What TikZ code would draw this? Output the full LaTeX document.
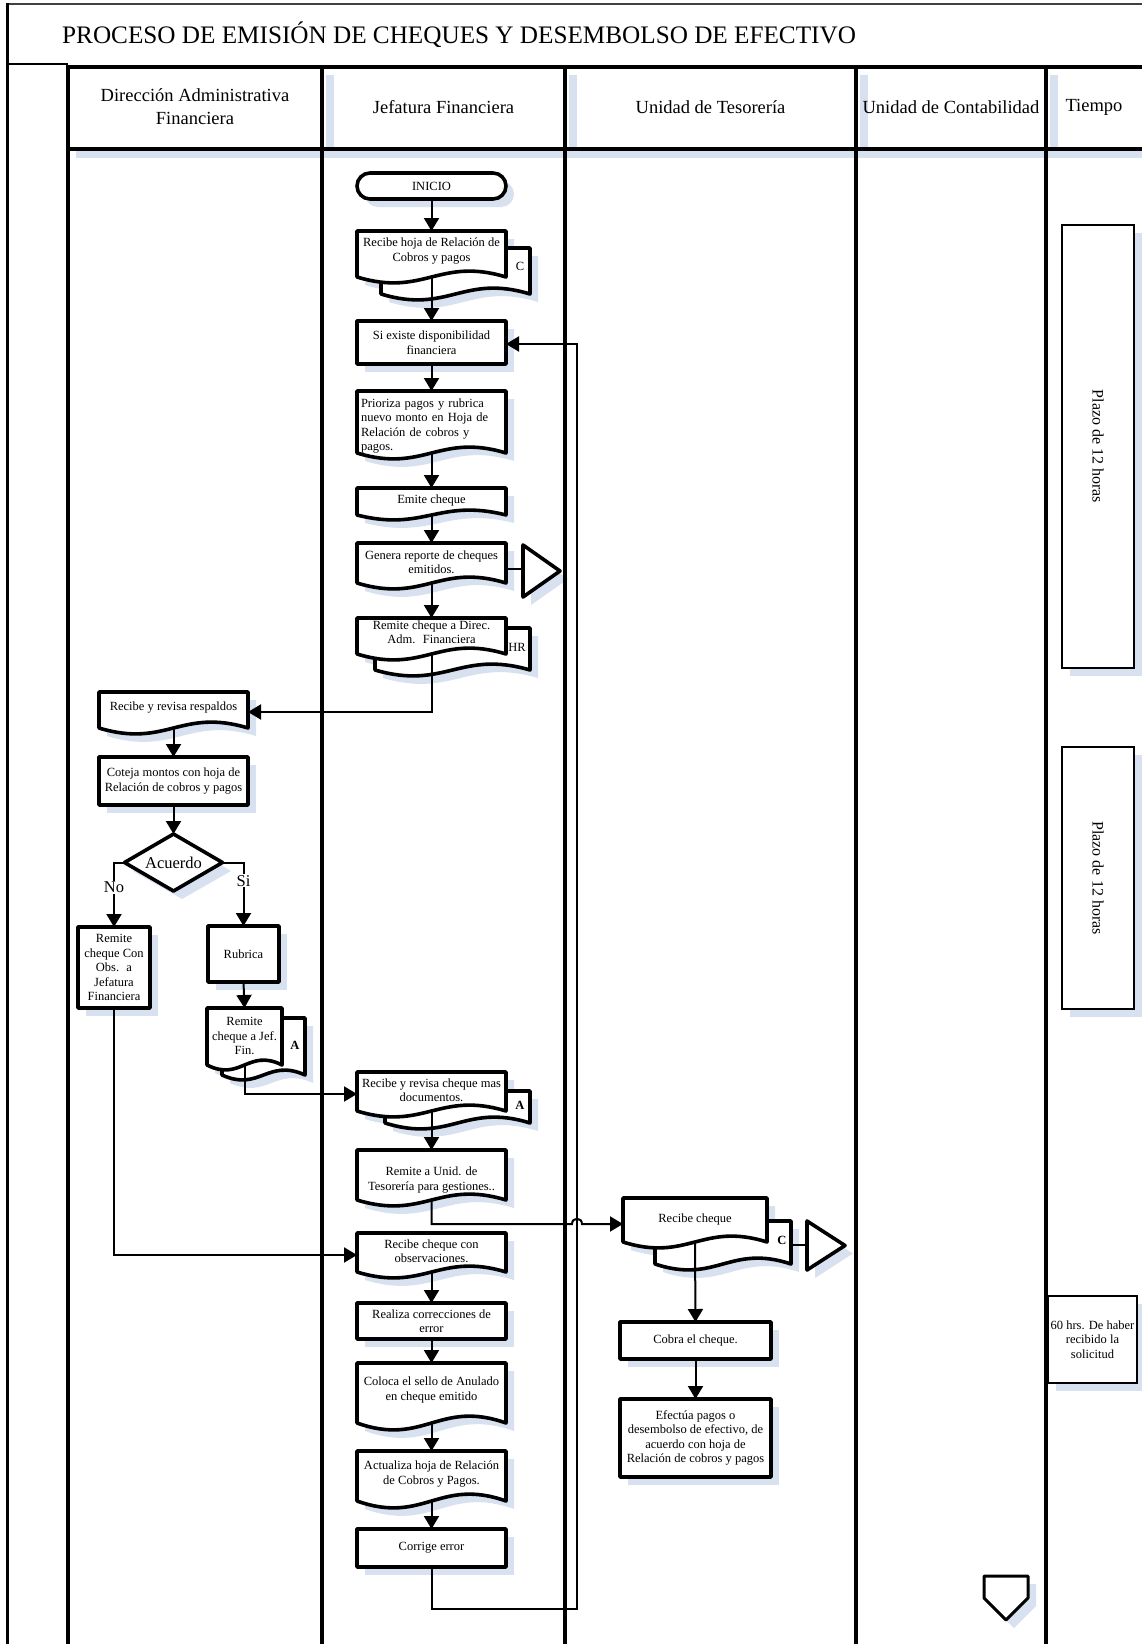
\documentclass[tikz,border=0pt]{standalone}
\usepackage{fontspec}
\setmainfont{Liberation Serif}
\usetikzlibrary{arrows.meta,shapes.geometric}
\pgfdeclarelayer{bg}
\pgfsetlayers{bg,main}
\definecolor{shadowc}{RGB}{216,225,240}
\tikzset{
  shp/.style={line width=3.6pt, line join=round, draw=black, fill=white},
  txt/.style={font=\fontsize{12.5}{14.5}\selectfont, align=center, inner sep=0pt, outer sep=0pt},
  conn/.style={line width=2pt},
  arr/.style={conn, -{Triangle[length=13pt,width=15pt]}},
  lane/.style={line width=4pt},
  lbl/.style={font=\fontsize{12.5}{14.5}\selectfont, inner sep=0pt},
  blbl/.style={font=\fontsize{12.5}{14.5}\selectfont\bfseries, inner sep=0pt},
  big/.style={font=\fontsize{16.5}{19}\selectfont},
  hdr/.style={font=\fontsize{18.5}{23}\selectfont, align=center, inner sep=0pt},
  tbox/.style={draw=black, line width=1.2pt, fill=white, inner sep=0pt, outer sep=0pt},
}
\newcommand{\DocOutline}[5]{%
  \begin{pgfonlayer}{bg}
    \fill[shadowc, shift={(8,8)}] (#1,#2) -- (#3,#2) -- (#3,#4) .. controls ({#3-0.45*(#3-#1)},{#4-3.4*#5}) and ({#1+0.45*(#3-#1)},{#4+3.4*#5}) .. (#1,#4) -- cycle;
  \end{pgfonlayer}
  \path[shp] (#1,#2) -- (#3,#2) -- (#3,#4) .. controls ({#3-0.45*(#3-#1)},{#4-3.4*#5}) and ({#1+0.45*(#3-#1)},{#4+3.4*#5}) .. (#1,#4) -- cycle;
}
\newcommand{\Doc}[8]{%
  \DocOutline{#2}{#3}{#4}{#5}{#6}
  \node[txt, minimum width={#4-#2}] (#1) at ({(#2+#4)/2},#7) {#8};
  \coordinate (#1-top) at ({(#2+#4)/2},#3);
  \coordinate (#1-bot) at ({(#2+#4)/2},#5);
}
\newcommand{\RBox}[6]{%
  \begin{pgfonlayer}{bg}
    \fill[shadowc] ({#2+8},{#3+8}) rectangle ({#4+8},{#5+8});
  \end{pgfonlayer}
  \node[shp, txt, minimum width={#4-#2}, minimum height={#5-#3}] (#1) at ({(#2+#4)/2},{(#3+#5)/2}) {#6};
}
\begin{document}
\begin{tikzpicture}[x=1pt,y=-1pt]
\useasboundingbox (0,0) rectangle (1142,1644);
\begin{pgfonlayer}{bg}
  \fill[white] (0,0) rectangle (1142,1644);
  \fill[shadowc] (76,151) rectangle (1142,158);
  \foreach \xx in {322,565,856,1046} \fill[shadowc] (\xx+4,75) rectangle (\xx+12,151);
\end{pgfonlayer}
% frame and lanes
\draw[line width=1.5pt, black!75] (7,4) -- (1142,4);
\draw[line width=3pt] (7,3) -- (7,1644);
\draw[line width=1.5pt] (7,64) -- (68,64);
\draw[lane] (66,67) -- (1142,67);
\draw[lane] (66,149) -- (1142,149);
\foreach \xx in {68,322,565,856,1046} \draw[lane] (\xx,65) -- (\xx,1644);
\node[anchor=west, font=\fontsize{25.2}{29}\selectfont, inner sep=0pt] (title) at (62,35) {PROCESO DE EMISIÓN DE CHEQUES Y DESEMBOLSO DE EFECTIVO};
\node[hdr] (h1) at (195,107) {Dirección Administrativa\\Financiera};
\node[hdr] (h2) at (443.5,107) {Jefatura Financiera};
\node[hdr] (h3) at (710.5,107) {Unidad de Tesorería};
\node[hdr] (h4) at (951,107) {Unidad de Contabilidad};
\node[hdr] (h5) at (1094,107) {Tiempo};

% Jefatura Financiera column
\begin{pgfonlayer}{bg}\fill[shadowc, rounded corners=13pt] (365,181) rectangle (514,207);\end{pgfonlayer}
\node[shp, txt, rounded corners=13pt, minimum width=149, minimum height=26] (inicio) at (431.5,186) {INICIO};

\DocOutline{381}{248}{530}{294}{6}
\Doc{n1}{357}{231}{506}{277}{6}{251}{Recibe hoja de Relación de\\Cobros y pagos}
\node[lbl] (c1) at (520,266) {C};

\RBox{n2}{357}{321}{506}{364}{Si existe disponibilidad\\financiera}

\DocOutline{357}{391}{506}{453}{6}
\node[txt, text width=141, align=left] (n3) at (431.5,426) {Prioriza pagos y rubrica\\nuevo monto en Hoja de\\Relación de cobros y\\pagos.};
\coordinate (n3-top) at (431.5,391);
\coordinate (n3-bot) at (431.5,453);

\Doc{n4}{357}{488}{506}{515}{5}{500}{Emite cheque}

\Doc{n5}{357}{543}{506}{583}{6}{562}{Genera reporte de cheques\\emitidos.}
\begin{pgfonlayer}{bg}\fill[shadowc] (531,553) -- (531,605) -- (568,579) -- cycle;\end{pgfonlayer}
\path[shp] (523,545) -- (523,597) -- (560,571) -- cycle;
\coordinate (tri1) at (523,569);
\coordinate (n5r) at (506,569);
\draw[conn] (n5r) -- (tri1);

\DocOutline{375}{628}{530}{670}{6}
\Doc{n6}{357}{618}{506}{654}{6}{632}{Remite cheque a Direc.\\Adm.~ Financiera}
\node[lbl] (hr) at (517,647) {HR};

\DocOutline{385}{1091}{530}{1123}{6}
\Doc{n12}{357}{1072}{506}{1111}{6}{1090}{Recibe y revisa cheque mas\\documentos.}
\node[blbl] (a2) at (520,1105) {A};
\coordinate (n12in) at (357,1094);

\Doc{n13}{357}{1150}{506}{1200}{6}{1180}{Remite a Unid. de\\Tesorería para gestiones..}
\Doc{n14}{357}{1233}{506}{1272}{6}{1251}{Recibe cheque con\\observaciones.}
\coordinate (n14in) at (357,1255);
\RBox{n15}{357}{1303}{506}{1339}{Realiza correcciones de\\error}
\Doc{n16}{357}{1363}{506}{1423}{7}{1390}{Coloca el sello de Anulado\\en cheque emitido}
\Doc{n17}{357}{1451}{506}{1501}{7}{1474}{Actualiza hoja de Relación\\de Cobros y Pagos.}
\RBox{n18}{357}{1529}{506}{1567}{Corrige error}

% Direccion Administrativa column
\Doc{n7}{99}{692}{248}{728}{6}{708}{Recibe y revisa respaldos}
\coordinate (n7in) at (248,712);
\RBox{n8}{99}{757}{248}{805}{Coteja montos con hoja de\\Relación de cobros y pagos}
\begin{pgfonlayer}{bg}\fill[shadowc] (182,842) -- (231,871) -- (182,899) -- (133,871) -- cycle;\end{pgfonlayer}
\node[shp, diamond, aspect=1.72, minimum width=98, minimum height=57, inner sep=0pt, outer sep=0pt, big] (dec) at (173.5,862.5) {Acuerdo};
\RBox{n9}{78}{927}{150}{1008}{Remite\\cheque Con\\Obs.~ a\\Jefatura\\Financiera}
\RBox{n10}{208}{926}{279}{982}{Rubrica}
\DocOutline{222}{1018}{305}{1075}{5}
\Doc{n11}{207}{1008}{282}{1065}{5}{1036}{Remite\\cheque a Jef.\\Fin.}
\node[blbl] (a1) at (295,1045) {A};

% Tesoreria column
\DocOutline{655}{1221}{791}{1264}{6}
\Doc{n19}{623}{1198}{767}{1242}{6}{1219}{Recibe cheque}
\coordinate (n19in) at (623,1224);
\node[blbl] (c2) at (782,1240) {C};
\begin{pgfonlayer}{bg}\fill[shadowc] (815,1229) -- (815,1278) -- (853,1253.5) -- cycle;\end{pgfonlayer}
\path[shp] (807,1221) -- (807,1270) -- (845,1245.5) -- cycle;
\coordinate (tri2) at (807,1245);
\coordinate (n19r) at (791,1245);
\draw[conn] (n19r) -- (tri2);
\RBox{n20}{620}{1322}{771}{1359}{Cobra el cheque.}
\RBox{n21}{620}{1399}{771}{1477}{Efectúa pagos o\\desembolso de efectivo, de\\acuerdo con hoja de\\Relación de cobros y pagos}

% Contabilidad: end connector
\begin{pgfonlayer}{bg}\fill[shadowc] (992,1584) -- (1036,1584) -- (1036,1606) -- (1014,1628) -- (992,1606) -- cycle;\end{pgfonlayer}
\path[shp, line width=3pt] (984,1576) -- (1028,1576) -- (1028,1598) -- (1006,1620) -- (984,1598) -- cycle;
\coordinate (fin) at (1006,1598);

% Tiempo column
\begin{pgfonlayer}{bg}
  \fill[shadowc] (1070,233) rectangle (1142,676);
  \fill[shadowc] (1070,755) rectangle (1142,1017);
  \fill[shadowc] (1056,1304) rectangle (1142,1391);
\end{pgfonlayer}
\node[tbox, minimum width=72, minimum height=443] (tb1) at (1098,446.5) {};
\node[rotate=-90, font=\fontsize{16}{19}\selectfont, inner sep=0pt] (tt1) at (1098,446.5) {Plazo de 12 horas};
\node[tbox, minimum width=72, minimum height=262] (tb2) at (1098,878) {};
\node[rotate=-90, font=\fontsize{16}{19}\selectfont, inner sep=0pt] (tt2) at (1098,878) {Plazo de 12 horas};
\node[tbox, txt, minimum width=89, minimum height=87] (tb3) at (1092.5,1339.5) {60 hrs. De haber\\recibido la\\solicitud};

% connectors
\draw[arr] (inicio.south) -- (n1-top);
\draw[arr] (n1-bot) -- (n2.north);
\draw[arr] (n2.south) -- (n3-top);
\draw[arr] (n3-bot) -- (n4-top);
\draw[arr] (n4-bot) -- (n5-top);
\draw[arr] (n5-bot) -- (n6-top);
\draw[arr] (n6-bot) |- (n7in);
\draw[arr] (n7-bot) -- (n8.north);
\draw[arr] (n8.south) -- (dec.north);
\draw[arr] (dec.west) -| node[pos=0.69, fill=white, big, inner sep=1pt] (lno) {No} (n9.north);
\draw[arr] (dec.east) -| node[pos=0.645, fill=white, big, inner sep=1pt] (lsi) {Si} (n10.north);
\draw[arr] (n10.south) -- (n11-top);
\draw[arr] (n11-bot) |- (n12in);
\draw[arr] (n9.south) |- (n14in);
\draw[arr] (n12-bot) -- (n13-top);
\coordinate (hopa) at (572,1224);
\coordinate (hopb) at (582,1224);
\draw[arr] (n13-bot) |- (hopa) .. controls (572,1217) and (582,1217) .. (hopb) -- (n19in);
\draw[arr] (n14-bot) -- (n15.north);
\draw[arr] (n15.south) -- (n16-top);
\draw[arr] (n16-bot) -- (n17-top);
\draw[arr] (n17-bot) -- (n18.north);
\coordinate (ret) at (577,344);
\draw[arr] (n18.south) -- ++(0,42) -| (ret) -- (n2.east |- ret);
\draw[arr] (n19-bot) -- (n20.north);
\draw[arr] (n20.south) -- (n21.north);
\end{tikzpicture}
\end{document}
